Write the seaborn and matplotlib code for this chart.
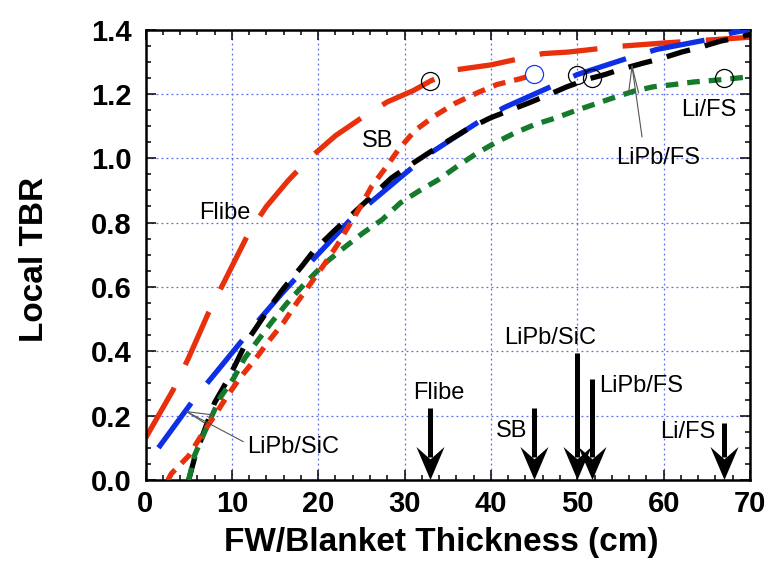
import numpy as np
import pandas as pd
import matplotlib
matplotlib.use("Agg")
import matplotlib.pyplot as plt
from matplotlib.path import Path
import seaborn as sns

# ---------------- data ----------------
flibe_x = [0, 3.2, 5, 7.3, 9, 12, 14, 16.5, 19, 22, 25, 28, 31, 33, 36, 40, 46, 49, 55, 60, 65, 70]
flibe_y = [0.13, 0.28, 0.38, 0.52, 0.61, 0.77, 0.85, 0.93, 1.0, 1.07, 1.125, 1.175, 1.21, 1.24, 1.275, 1.29, 1.325, 1.33, 1.348, 1.358, 1.367, 1.376]

sb_x = [2.6, 3.0, 5.0, 6.5, 8.0, 9.2, 10.9, 12.7, 14.4, 16.0, 17.5, 19.1, 20.8, 22.2, 23.5, 24.9, 26.2, 27.8, 29.3, 31.2, 33.4, 35.8, 38.4, 40.7, 43.4, 45.0]
sb_y = [0.0, 0.02, 0.075, 0.14, 0.2, 0.25, 0.316, 0.375, 0.436, 0.49, 0.55, 0.61, 0.674, 0.73, 0.788, 0.85, 0.913, 0.97, 1.027, 1.086, 1.13, 1.17, 1.203, 1.229, 1.247, 1.26]

sic_x = [1.5, 5.7, 8.4, 12.9, 15.8, 19.4, 23.9, 29.9, 32.7, 38.4, 41.5, 47.5, 50.0, 56.3, 59.2, 65.2, 68.0, 70.0]
sic_y = [0.10, 0.254, 0.342, 0.49, 0.58, 0.685, 0.814, 0.949, 1.011, 1.11, 1.157, 1.229, 1.26, 1.315, 1.338, 1.369, 1.39, 1.40]

fs_x = [5.0, 5.7, 6.7, 8.0, 9.4, 10.4, 11.7, 12.9, 14.6, 16.0, 18.1, 19.6, 22.0, 24.3, 26.6, 28.5, 31.0, 33.0, 35.3, 37.2, 39.9, 41.9, 44.4, 46.3, 48.8, 51.5, 53.2, 55.0, 57.7, 59.6, 62.1, 64.0, 66.6, 68.5, 70.0]
fs_y = [0.0, 0.07, 0.145, 0.24, 0.306, 0.358, 0.43, 0.477, 0.545, 0.596, 0.664, 0.716, 0.778, 0.835, 0.892, 0.939, 0.985, 1.02, 1.058, 1.089, 1.125, 1.146, 1.172, 1.193, 1.222, 1.248, 1.26, 1.276, 1.296, 1.309, 1.33, 1.343, 1.364, 1.374, 1.385]

lifs_x = [5.0, 5.7, 6.7, 8.6, 10.2, 11.5, 12.9, 14.6, 16.4, 18.5, 20.8, 22.9, 25.2, 27.4, 29.5, 31.6, 33.9, 36.1, 38.4, 40.5, 42.8, 45.1, 47.5, 49.6, 51.9, 54.2, 56.5, 58.8, 61.2, 63.5, 65.8, 67.0, 68.1, 70.0]
lifs_y = [0.0, 0.078, 0.14, 0.254, 0.316, 0.379, 0.43, 0.49, 0.55, 0.612, 0.674, 0.72, 0.768, 0.809, 0.861, 0.897, 0.933, 0.975, 1.016, 1.048, 1.079, 1.105, 1.125, 1.146, 1.167, 1.188, 1.208, 1.222, 1.229, 1.237, 1.242, 1.245, 1.248, 1.253]

# design points (circles)
circ_x = [33.0, 45.0, 50.0, 51.7, 67.0]
circ_y = [1.24, 1.262, 1.26, 1.248, 1.248]
circ_colors = ["black", "#1a3be8", "black", "black", "black"]

# arrows at minimum thickness
arrow_labels = ["Flibe", "SB", "LiPb/SiC", "LiPb/FS", "Li/FS"]
arrow_x = [33.0, 45.0, 50.0, 51.7, 67.0]
arrow_top = [0.223, 0.223, 0.394, 0.314, 0.176]

x_ticks = [0, 10, 20, 30, 40, 50, 60, 70]
y_ticks = [0.0, 0.2, 0.4, 0.6, 0.8, 1.0, 1.2, 1.4]

# ---------------- style ----------------
sns.set_theme(style="ticks")
plt.rcParams["font.family"] = ["Liberation Sans", "DejaVu Sans"]
plt.rcParams["text.color"] = "black"
plt.rcParams["axes.labelcolor"] = "black"
plt.rcParams["xtick.color"] = "black"
plt.rcParams["ytick.color"] = "black"

RED = "#e8300c"
BLUE = "#0d2fe6"
GREEN = "#157a2c"

fig = plt.figure(figsize=(7.78, 5.69), dpi=100)
ax = fig.add_axes([145.5 / 778, 89 / 569, 604.5 / 778, 450.5 / 569])
ax.set_facecolor("white")

LW = 3.8
series = [
    ("Flibe", flibe_x, flibe_y, RED, (0, (11, 4.8)), 2),
    ("LiPb/SiC", sic_x, sic_y, BLUE, (0, (10.5, 4.8)), 3),
    ("LiPb/FS", fs_x, fs_y, "black", (0, (4.6, 2.9)), 4),
    ("Li/FS", lifs_x, lifs_y, GREEN, (0, (2.4, 1.7)), 5),
    ("SB", sb_x, sb_y, RED, (0, (2.4, 1.7)), 6),
]
for name, xs, ys, col, ls, z in series:
    df = pd.DataFrame({"x": xs, "y": ys})
    sns.lineplot(data=df, x="x", y="y", ax=ax, color=col, linewidth=LW,
                 linestyle=ls, sort=False, estimator=None, zorder=z)

# circles
for cx, cy, cc in zip(circ_x, circ_y, circ_colors):
    ax.plot(cx, cy, marker="o", markersize=13, markerfacecolor="none",
            markeredgecolor=cc, markeredgewidth=0.9, zorder=8, linestyle="none")

# arrows
head = Path([(0, -1), (-0.85, 1), (0, 0.25), (0.85, 1), (0, -1)],
            [Path.MOVETO, Path.LINETO, Path.LINETO, Path.LINETO, Path.CLOSEPOLY])
for ax_x, top in zip(arrow_x, arrow_top):
    ax.plot([ax_x, ax_x], [top, 0.07], color="black", linewidth=3.6,
            solid_capstyle="butt", zorder=9)
    ax.plot(ax_x, 0.0513, marker=head, markersize=23.8, color="black",
            markeredgewidth=0, linestyle="none", zorder=9, clip_on=False)

afs = 17
ax.text(34.0, 0.27, "Flibe", fontsize=afs, ha="center", va="center")
ax.text(42.4, 0.153, "SB", fontsize=afs, ha="center", va="center")
ax.text(46.9, 0.44, "LiPb/SiC", fontsize=afs, ha="center", va="center")
ax.text(52.5, 0.292, "LiPb/FS", fontsize=afs, ha="left", va="center")
ax.text(62.8, 0.15, "Li/FS", fontsize=afs, ha="center", va="center")

# curve labels
ax.text(9.2, 0.83, "Flibe", fontsize=afs, ha="center", va="center")
ax.text(26.9, 1.053, "SB", fontsize=afs, ha="center", va="center")
ax.text(65.2, 1.151, "Li/FS", fontsize=afs, ha="center", va="center")
ax.text(59.4, 1.0, "LiPb/FS", fontsize=afs, ha="center", va="center")
ax.text(17.1, 0.104, "LiPb/SiC", fontsize=afs, ha="center", va="center")

# leader lines
leader_kw = dict(color="#555555", linewidth=0.8, zorder=7)
ax.plot([11.33, 4.77], [0.119, 0.2125], **leader_kw)
ax.plot([4.77, 7.86], [0.2125, 0.202], **leader_kw)
ax.plot([4.77, 6.9], [0.2125, 0.176], **leader_kw)
ax.plot([57.5, 56.34], [1.066, 1.286], **leader_kw)
ax.plot([56.34, 55.94], [1.286, 1.203], **leader_kw)
ax.plot([56.34, 57.1], [1.286, 1.203], **leader_kw)

# axes
ax.set_xlim(0, 70)
ax.set_ylim(0, 1.4)
ax.set_xticks(x_ticks)
ax.set_yticks(y_ticks)
ax.set_xticklabels([str(t) for t in x_ticks])
ax.set_yticklabels([f"{t:.1f}" for t in y_ticks])
ax.set_xticks(np.arange(0, 70.1, 2), minor=True)
ax.set_yticks(np.arange(0, 1.401, 0.05), minor=True)
ax.tick_params(which="both", direction="in", top=True, right=True,
               color="black", width=1.1)
ax.tick_params(which="major", length=7)
ax.tick_params(which="minor", length=3.8)
ax.tick_params(axis="x", which="major", labelsize=21, pad=7, labelcolor="black")
ax.tick_params(axis="y", which="major", labelsize=21, pad=10, labelcolor="black")
for lab in ax.get_xticklabels() + ax.get_yticklabels():
    lab.set_fontweight("bold")

for s in ax.spines.values():
    s.set_color("black")
    s.set_linewidth(1.8)

ax.grid(False, which="minor")
ax.grid(True, which="major", color="#5a6cf2", linestyle=(0, (1.5, 2.5)), linewidth=0.9)
ax.set_axisbelow(True)

ax.set_xlabel("FW/Blanket Thickness (cm)", fontsize=24, fontweight="bold", color="black")
ax.set_ylabel("Local TBR", fontsize=24, fontweight="bold", color="black")
ax.xaxis.label.set_va("center")
ax.yaxis.label.set_va("center")
ax.xaxis.set_label_coords(0.49, (480 - 543) / 450.5)
ax.yaxis.set_label_coords((34.5 - 145.5) / 604.5, 0.49)

fig.savefig("out.png", dpi=100)
